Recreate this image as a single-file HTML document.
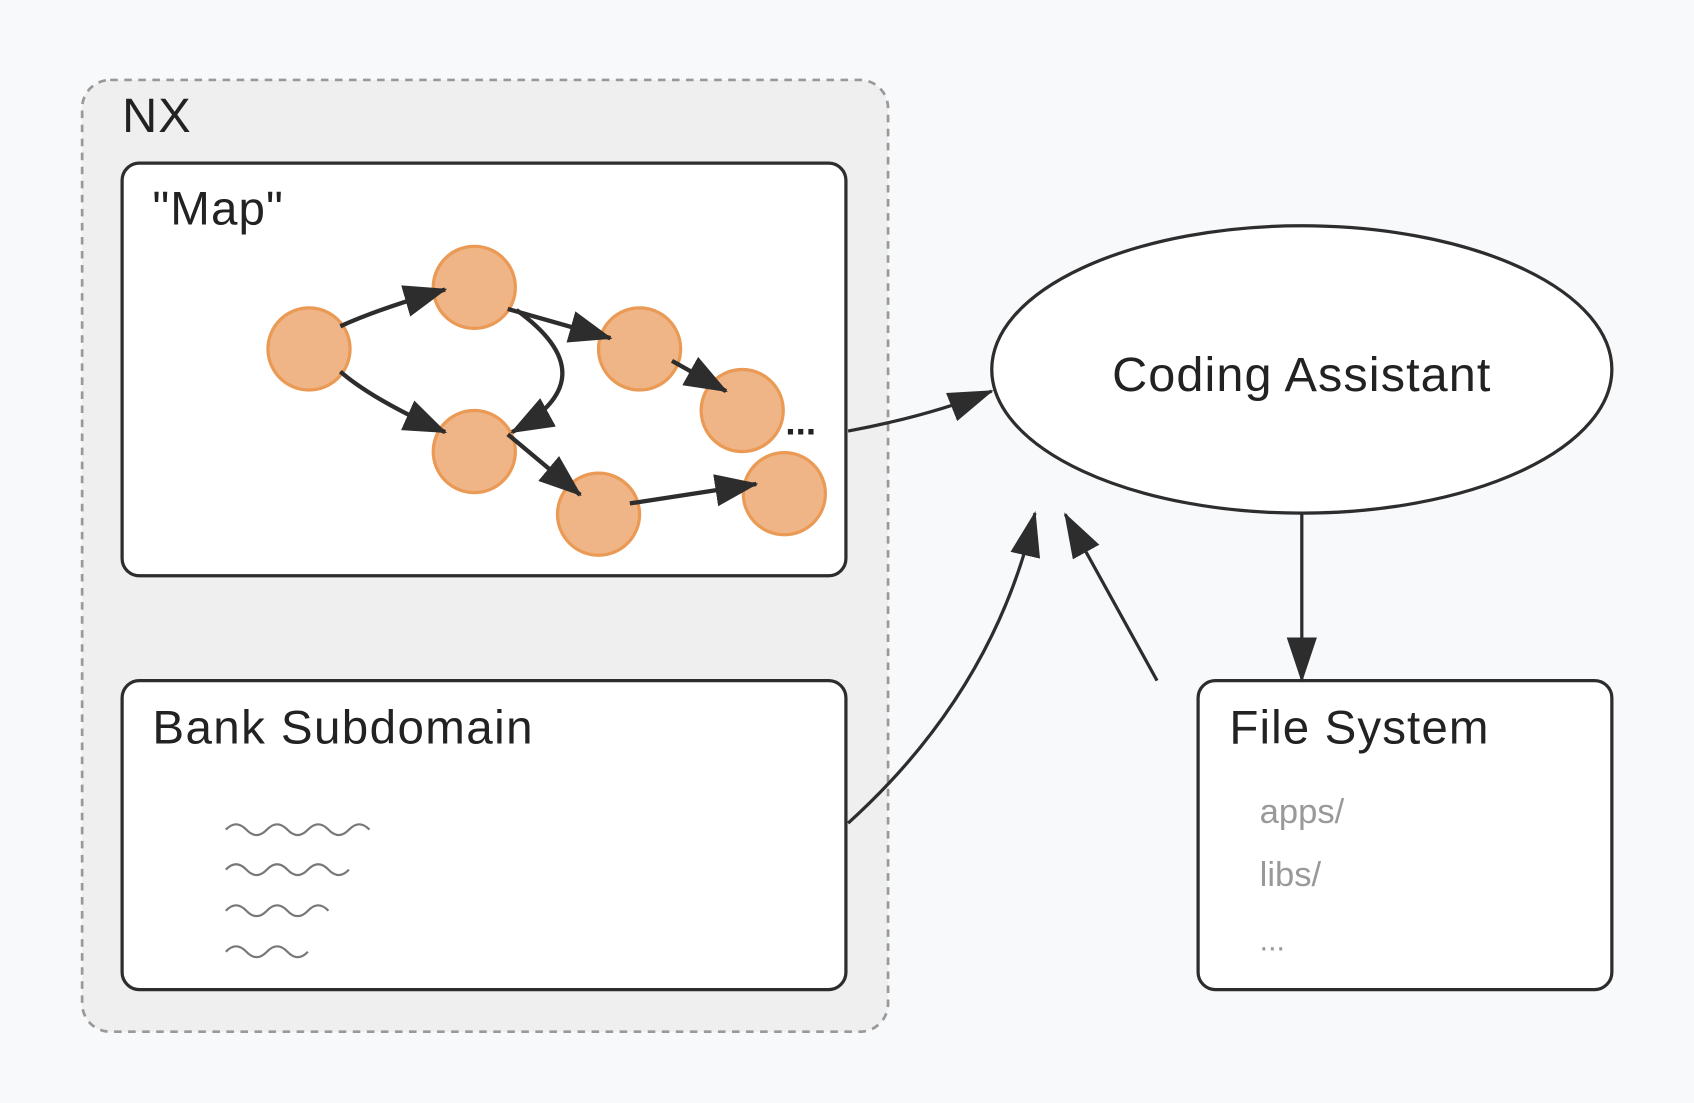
<!DOCTYPE html>
<html><head><meta charset="utf-8"><style>
html,body{margin:0;padding:0;background:#f8f9fb;}
svg{display:block}
text{font-family:"Liberation Sans",sans-serif;}
</style></head><body>
<svg width="1694" height="1103" viewBox="0 0 1568 1021" xmlns="http://www.w3.org/2000/svg">
<defs>
<marker id="a" markerUnits="userSpaceOnUse" markerWidth="40" markerHeight="30" refX="38" refY="15" orient="auto">
<path d="M0,0 L40,15 L0,30 Z" fill="#2d2d2d"/>
</marker>
<marker id="b" markerUnits="userSpaceOnUse" markerWidth="42" markerHeight="28" refX="40" refY="14" orient="auto">
<path d="M0,0 L42,14 L0,28 Z" fill="#2d2d2d"/>
</marker>
</defs>
<rect width="1568" height="1021" fill="#f8f9fb"/>
<rect x="76" y="74" width="746" height="881" rx="26" fill="#efeff0" stroke="#999" stroke-width="2.5" stroke-dasharray="7,6"/>
<text x="113" y="122" font-size="45" fill="#222" letter-spacing="1">NX</text>
<rect x="113" y="151" width="670" height="382" rx="16" fill="#fff" stroke="#2d2d2d" stroke-width="3"/>
<text x="141" y="208" font-size="44" fill="#222" letter-spacing="1">"Map"</text>
<rect x="113" y="630" width="670" height="286" rx="16" fill="#fff" stroke="#2d2d2d" stroke-width="3"/>
<text x="141" y="688" font-size="44" fill="#222" letter-spacing="1.3">Bank Subdomain</text>
<g fill="none" stroke="#777" stroke-width="2">
<path d="M209,768 q9.5,-10 19,0 t19,0 t19,0 t19,0 t19,0 t19,0 t19,0"/>
<path d="M209,805 q9.5,-10 19,0 t19,0 t19,0 t19,0 t19,0 t19,0"/>
<path d="M209,843 q9.5,-10 19,0 t19,0 t19,0 t19,0 t19,0"/>
<path d="M209,881 q9.5,-10 19,0 t19,0 t19,0 t19,0"/>
</g>
<g fill="#efb586" stroke="#ea9a55" stroke-width="3">
<circle cx="286" cy="323" r="38"/>
<circle cx="439" cy="266" r="38"/>
<circle cx="592" cy="323" r="38"/>
<circle cx="687" cy="380" r="38"/>
<circle cx="439" cy="418" r="38"/>
<circle cx="554" cy="476" r="38"/>
<circle cx="726" cy="457" r="38"/>
</g>
<g fill="none" stroke="#2d2d2d" stroke-width="4" marker-end="url(#a)">
<path d="M315,302 Q350,286 412,268"/>
<path d="M315,344 Q345,370 412,400"/>
<path d="M470,286 L565,313"/>
<path d="M478,287 Q565,350 474,400"/>
<path d="M622,334 L672,362"/>
<path d="M470,402 L537,458"/>
<path d="M583,466 L700,448"/>
</g>
<text x="727" y="402" font-size="34" font-weight="bold" fill="#222">...</text>
<ellipse cx="1205" cy="342" rx="287" ry="133" fill="#fff" stroke="#2d2d2d" stroke-width="3"/>
<text x="1205" y="362" font-size="45" fill="#222" text-anchor="middle" letter-spacing="1">Coding Assistant</text>
<rect x="1109" y="630" width="383" height="286" rx="16" fill="#fff" stroke="#2d2d2d" stroke-width="3"/>
<text x="1138" y="688" font-size="44" fill="#222" letter-spacing="1">File System</text>
<text x="1166" y="762" font-size="32" fill="#999">apps/</text>
<text x="1166" y="820" font-size="32" fill="#999">libs/</text>
<text x="1166" y="880" font-size="28" fill="#999">...</text>
<g fill="none" stroke="#2d2d2d" stroke-width="3" marker-end="url(#b)">
<path d="M785,399 Q860,385 918,362"/>
<path d="M785,762 Q920,640 958,475"/>
<path d="M1071,630 L986,476"/>
<path d="M1205,476 L1205,630"/>
</g>
</svg>
</body></html>
